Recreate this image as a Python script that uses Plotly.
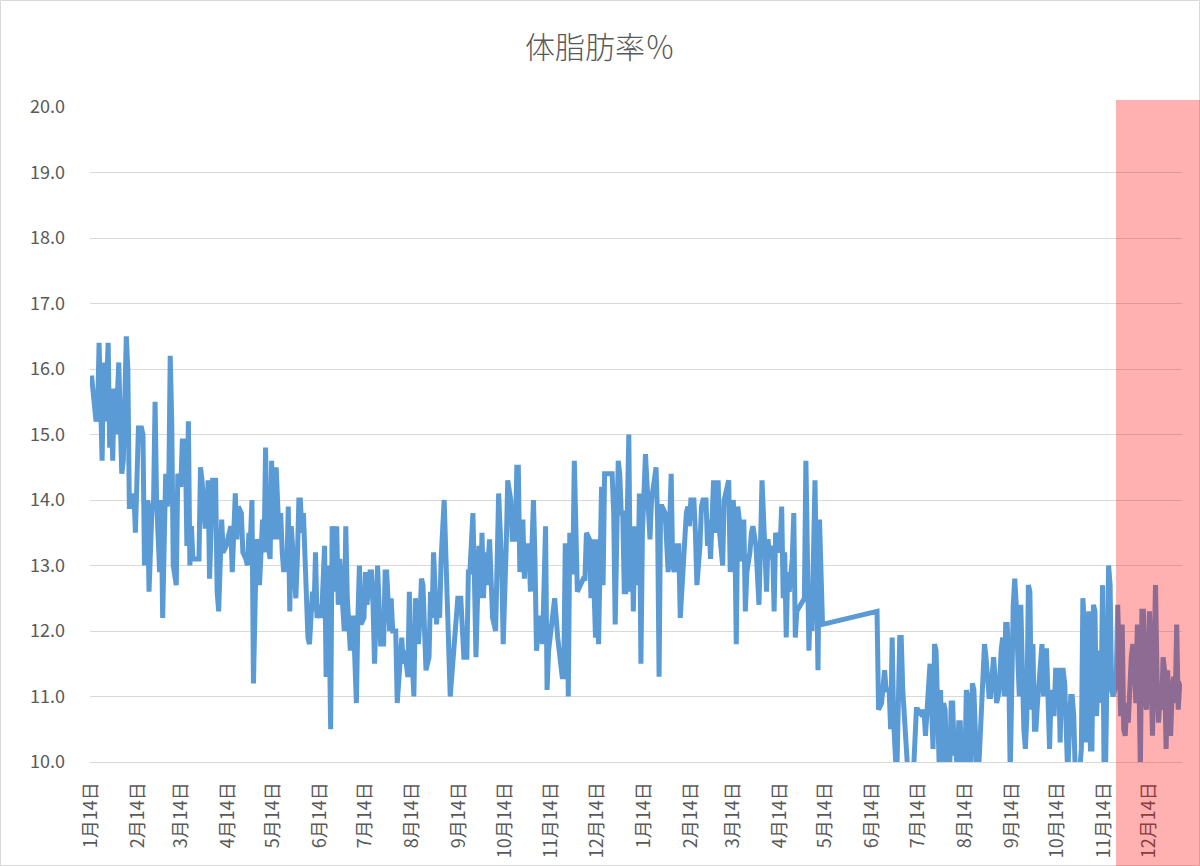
import plotly.graph_objects as go
import pandas as pd

# day offsets from 2017-01-14 and body fat readings (%)
days_y1 = [0, 3, 4, 5, 7, 8, 9, 11, 12, 13,
           14, 15, 16, 18, 19, 20, 21, 23, 24, 25,
           27, 28, 29, 30, 31, 33, 34, 35, 37, 38,
           40, 41, 42, 43, 45, 46, 47, 49, 50, 51,
           52, 53, 54, 56, 57, 59, 60, 62, 63, 64,
           65, 66, 67, 69, 71, 72, 73, 75, 76, 77,
           78, 80, 82, 83, 84, 86, 87, 89, 91, 92,
           93, 95,
           96, 97, 99, 100, 102, 103, 104, 105, 106, 107,
           109, 110, 111, 112, 113, 114, 115, 116, 118, 119,
           120, 121, 122, 124, 125, 126, 127, 128, 129, 130,
           131, 132, 133, 135, 136, 137, 138, 139, 140, 142,
           143, 144, 146, 147, 148, 149, 151, 152, 153, 154,
           155, 156, 157, 158, 159, 161, 162, 163, 164, 166,
           167, 168, 169, 171, 172, 173, 175, 176, 177, 178,
           180, 181, 182, 184, 185, 186, 187,
           189, 191, 193, 194, 195, 196, 197, 198, 199, 201,
           202, 205, 206, 207, 209, 210, 211, 212, 213, 214,
           216, 217, 218, 219, 220, 221, 223, 224, 225, 226,
           228, 229, 230, 231, 233, 235, 236, 237, 239, 241,
           242, 244, 245, 246, 248, 249, 250, 252, 253, 254,
           256, 257, 258, 259, 260, 261, 263, 264, 265, 267,
           268, 269, 271, 272, 274,
           275, 277, 278, 280, 281, 282, 283, 285, 286, 287,
           289, 290, 291, 292, 293, 294, 296, 297, 298, 300,
           301, 302, 304, 306, 308, 311, 312, 313, 314, 315,
           316, 317, 318, 319, 321, 323, 325, 326, 327, 329,
           330, 331, 332, 333, 334, 335, 337, 338, 339, 341,
           344, 345, 346, 348, 349, 350, 351, 352, 353, 355,
           356, 357, 358, 359, 361, 362, 363, 364]
fat_y1 = [15.9, 15.2, 15.3, 16.4, 14.6, 16.1, 15.2, 16.4, 14.8, 15.7,
          14.6, 15.7, 15.0, 16.1, 15.2, 14.4, 14.6, 16.5, 16.0, 13.9,
          13.9, 14.1, 13.5, 14.7, 15.1, 15.1, 15.0, 13.0, 14.0, 12.6,
          13.9, 14.0, 15.5, 14.0, 12.9, 14.0, 12.2, 14.4, 13.9, 14.1,
          16.2, 15.2, 13.0, 12.7, 14.4, 14.2, 14.9, 14.9, 13.3, 15.2,
          13.0, 13.6, 13.1, 13.1, 13.1, 14.5, 14.3, 13.6, 13.6, 14.3,
          12.8, 14.3, 14.3, 12.6, 12.3, 13.7, 13.2, 13.3, 13.5, 13.6,
          12.9, 14.1,
          13.4, 13.9, 13.8, 13.2, 13.1, 13.0, 13.5, 13.4, 14.0, 11.2,
          13.4, 13.3, 12.7, 13.5, 13.7, 13.2, 14.8, 13.4, 13.1, 14.6,
          13.5, 13.4, 14.5, 13.4, 13.8, 13.2, 12.9, 13.1, 12.9, 13.9,
          12.3, 13.6, 13.3, 12.5, 13.1, 14.0, 14.0, 13.5, 13.8, 12.2,
          11.9, 11.8, 12.6, 12.3, 13.2, 12.2, 12.4, 12.2, 12.9, 13.3,
          11.3, 13.0, 12.2, 10.5, 13.6, 12.6, 13.6, 12.4, 13.1, 12.3,
          12.0, 13.6, 12.5, 11.7, 12.2, 12.2, 10.9, 12.2, 13.0, 12.1,
          12.2, 12.9, 12.4, 12.9, 12.9, 12.4, 11.5,
          13.0, 11.8, 11.8, 12.9, 12.9, 12.5, 12.0, 12.5, 12.0, 12.0,
          10.9, 11.9, 11.5, 11.7, 11.3, 12.6, 11.3, 11.5, 11.0, 12.5,
          11.8, 12.2, 12.8, 12.7, 12.1, 11.4, 11.6, 12.6, 12.2, 13.2,
          12.1, 12.6, 12.2, 13.1, 14.0, 12.6, 11.6, 11.0, 11.6, 12.3,
          12.5, 12.5, 11.9, 11.6, 11.6, 12.9, 12.9, 13.8, 12.8, 11.6,
          13.3, 12.5, 13.5, 12.5, 13.2, 12.7, 13.4, 12.8, 12.2, 12.0,
          13.3, 14.1, 13.0, 11.8, 13.3,
          14.3, 14.0, 13.4, 13.4, 14.5, 14.5, 12.9, 13.7, 12.8, 13.3,
          13.3, 12.6, 13.1, 14.0, 13.1, 11.7, 12.2, 12.2, 11.8, 13.6,
          11.1, 11.7, 12.1, 12.5, 11.9, 11.3, 11.3, 13.3, 13.3, 11.0,
          13.5, 12.9, 12.9, 14.6, 12.6, 12.7, 12.8, 12.8, 13.5, 13.4,
          12.5, 13.4, 12.7, 11.9, 13.4, 11.8, 14.2, 12.7, 14.4, 14.4,
          14.4, 13.8, 12.1, 14.6, 14.4, 13.8, 13.8, 12.6, 12.6, 15.0,
          12.6, 13.6, 12.3, 13.6, 12.7, 14.1, 11.5, 13.5]

days_y2 = [365, 366, 369, 370, 373, 374, 375, 376, 377, 379,
           381, 382, 383, 384, 385, 387, 388, 389, 391, 392,
           393, 394, 395, 396, 398, 399, 400, 402, 403, 404,
           406, 407, 408, 409, 410, 411, 412, 414, 415, 416,
           417, 418, 420, 421, 422, 423, 424, 425, 426, 427,
           428, 429, 430, 431, 432, 433, 435, 436, 437, 439,
           440, 441, 442, 443, 445, 446, 447, 448, 450, 451,
           452, 454, 455, 456, 457, 458, 459, 460, 461, 463,
           464,
           465, 466, 469, 471, 472, 474, 475, 476, 478, 479,
           480, 481, 483, 519, 520, 522, 524, 525, 527, 528,
           529, 530, 532, 534, 535, 536, 538, 540, 542, 543,
           545, 546, 549, 550, 551, 552, 554, 556, 557,
           558, 559, 560, 561, 562, 563, 564, 565, 566, 567,
           568, 569, 570, 571, 572, 573, 574, 575, 576, 577,
           578, 579, 580, 581, 582, 583, 585, 586, 588, 589,
           590, 591, 592, 593, 594, 596, 597, 598, 599, 600,
           601, 602, 603, 604, 605, 606, 607, 608, 609, 610,
           611, 612, 613, 614, 615, 616, 617, 618, 619, 620,
           621, 622, 623, 624, 625, 626, 627, 628, 629, 630,
           631, 632, 633, 634, 635, 636, 637, 639, 640, 641,
           642, 643, 644, 645, 647, 648, 649, 650,
           651, 653, 654, 655, 656, 657, 659, 660, 661, 662,
           663, 664, 666, 667, 668, 669, 670, 672, 673, 674,
           675, 676, 677, 678, 679, 680, 681, 682, 683, 684,
           685, 686, 687, 688, 689, 690, 691, 692, 693, 694,
           695, 696, 697, 698, 699, 700, 701, 702, 703, 704,
           705, 706, 707, 708, 709, 710, 711, 712, 713, 714,
           715, 716, 717, 718, 719, 720]
fat_y2 = [14.2, 14.7, 13.4, 14.0, 14.5, 13.7, 11.3, 13.9, 13.9, 13.8,
          12.9, 13.7, 14.4, 13.0, 12.9, 13.3, 13.3, 12.2, 13.1, 13.6,
          13.8, 13.9, 13.6, 14.0, 14.0, 13.5, 12.7, 13.3, 13.9, 14.0,
          14.0, 13.3, 13.7, 13.1, 13.7, 14.3, 13.5, 14.3, 13.5, 13.1,
          13.0, 14.0, 14.2, 14.3, 12.9, 13.8, 14.0, 13.6, 11.8, 13.9,
          13.7, 13.1, 13.1, 13.7, 12.3, 12.9, 13.2, 13.5, 13.6, 13.3,
          12.9, 12.4, 13.3, 14.3, 13.2, 12.6, 13.4, 13.1, 13.3, 12.3,
          13.5, 13.2, 13.3, 13.9, 12.5, 13.2, 11.9, 12.9, 12.6, 13.1,
          13.8,
          11.9, 12.3, 12.4, 12.5, 14.6, 11.7, 12.5, 12.0, 14.3, 12.4,
          11.4, 13.7, 12.1, 12.3, 10.8, 10.9, 11.4, 11.1, 11.1, 10.5,
          11.9, 10.6, 9.7, 11.9, 11.9, 11.1, 10.3, 9.6, 9.6, 9.8,
          10.8, 10.8, 10.7, 10.8, 10.4, 10.8, 11.5, 10.2, 11.8,
          11.7, 11.0, 10.0, 11.1, 9.8, 10.9, 10.8, 9.9, 10.4, 9.9,
          10.9, 10.9, 10.1, 10.2, 9.9, 10.6, 10.6, 9.8, 9.8, 9.8,
          11.1, 11.0, 9.8, 9.8, 11.2, 11.1, 9.8, 9.8, 10.8, 11.3,
          11.8, 11.6, 11.3, 11.0, 11.0, 11.6, 11.3, 10.9, 11.0, 11.2,
          11.7, 11.9, 11.0, 12.1, 12.1, 11.5, 9.8, 11.7, 12.4, 12.8,
          12.4, 11.6, 11.0, 12.4, 10.8, 10.5, 10.2, 10.7, 12.7, 12.6,
          10.8, 11.8, 10.5, 10.5, 10.9, 11.2, 11.4, 11.8, 11.0, 11.7,
          11.7, 11.0, 10.2, 11.0, 11.1, 10.7, 11.4, 11.4, 10.3, 11.4,
          11.4, 11.2, 10.6, 9.8, 11.0, 11.0, 10.7, 9.8,
          9.9, 9.9, 10.2, 12.5, 12.1, 10.3, 12.3, 10.2, 10.2, 12.4,
          12.3, 10.7, 11.7, 10.9, 12.7, 9.9, 9.9, 13.0, 12.7, 11.1,
          11.0, 11.1, 11.2, 12.4, 11.3, 10.7, 12.1, 10.5, 10.4, 10.9,
          10.6, 11.4, 11.6, 11.8, 11.5, 10.9, 12.1, 11.4, 9.9, 12.3,
          12.3, 11.0, 10.8, 11.5, 12.3, 11.4, 10.4, 11.5, 12.7, 11.3,
          10.6, 11.0, 10.8, 11.6, 11.4, 10.2, 11.4, 10.8, 10.4, 11.1,
          11.3, 10.9, 12.1, 10.8, 11.2, 11.2]

start = pd.Timestamp("2017-01-14")
days = days_y1 + days_y2
fat = fat_y1 + fat_y2
dates = start + pd.to_timedelta(days, unit="D")

W, H = 1200, 866
L, R, T, B = 90, 18, 107, 104
pw, ph = W - L - R, H - T - B


def px_x(px):
    return (px - L) / pw


def px_y(py):
    return (H - B - py) / ph


grey = "#595959"

fig = go.Figure()
fig.add_trace(go.Scatter(
    x=dates, y=fat, mode="lines",
    line=dict(color="#5B9BD5", width=5),
    hoverinfo="x+y", showlegend=False,
))

# highlighted period
fig.add_shape(type="rect", xref="paper", yref="paper",
              x0=px_x(1116), x1=px_x(1201), y0=px_y(867), y1=px_y(100),
              fillcolor="rgba(255,0,0,0.31)", line_width=0, layer="above")
# chart frame
fig.add_shape(type="rect", xref="paper", yref="paper",
              x0=px_x(0.5), x1=px_x(W - 0.5), y0=px_y(H - 0.5), y1=px_y(0.5),
              line=dict(color="#D9D9D9", width=1), layer="below")

fig.update_layout(
    width=W, height=H,
    margin=dict(l=L, r=R, t=T, b=B, autoexpand=False),
    paper_bgcolor="white", plot_bgcolor="white",
    font=dict(family="Noto Sans CJK JP", color=grey),
    title=dict(text="体脂肪率％", x=0.5, xanchor="center",
               y=1 - 47 / H, yanchor="middle", yref="container",
               font=dict(size=30, color=grey, weight=300)),
)
fig.update_xaxes(
    type="date",
    range=[start - pd.Timedelta(days=1), start + pd.Timedelta(days=720.5)],
    tick0="2017-01-14", dtick="M1", tickformat="%-m月%d日",
    tickangle=-90, tickfont=dict(size=18, color=grey),
    showgrid=False, showline=True, linecolor="#D9D9D9", linewidth=1,
    zeroline=False, ticks="", ticklabelstandoff=12, automargin=False,
)
fig.update_yaxes(
    range=[10, 20], dtick=1, tickformat=".1f",
    tickfont=dict(size=18, color=grey),
    gridcolor="#D9D9D9", gridwidth=1, zeroline=False, showline=False,
    ticks="", ticklabelstandoff=24, automargin=False,
)

# no page margin and no inline-block gap under the plot
page_fix = """
document.body.style.margin = '0';
document.body.style.overflow = 'hidden';
document.querySelectorAll('.svg-container').forEach(function (e) {
    e.style.display = 'block';
});
"""
fig.write_html("out.html", config={"displayModeBar": False},
               post_script=page_fix)
